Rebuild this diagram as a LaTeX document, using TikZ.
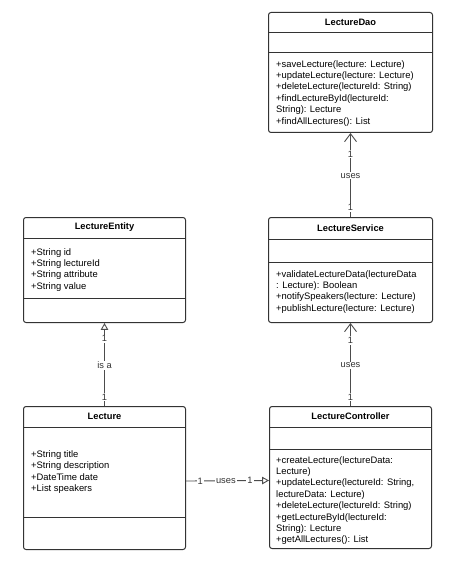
\documentclass[tikz,border=0pt]{standalone}
\usepackage{fontspec}
\setmainfont{Liberation Sans}
\usepackage{tikz}
\usetikzlibrary{arrows.meta, positioning}
\tikzset{
    classbox/.style={
        rectangle,
        rounded corners=2.5pt,
        draw=black!80,
        line width=1pt,
        anchor=north west,
        inner sep=0pt,
        fill=white
    },
    classtitle/.style={
        anchor=center,
        inner sep=0pt,
        font=\fontsize{9.3}{11.3}\selectfont\bfseries
    },
    classtext/.style={
        align=left,
        inner sep=0pt,
        anchor=north west,
        font=\fontsize{9.4}{11.4}\selectfont
    },
    classsep/.style={
        draw=black!80,
        line width=1pt
    },
    useline/.style={
        draw=black!70,
        line width=0.9pt,
        -{Straight Barb[length=2.8mm, width=4.2mm, line width=0.9pt]}
    },
    isaline/.style={
        draw=black!70,
        line width=0.9pt,
        -{Triangle[open, length=2.4mm, width=2.6mm, line width=0.9pt]}
    },
    multlabel/.style={
        fill=white,
        inner sep=1pt,
        text=black!80,
        font=\fontsize{9.3}{11}\selectfont
    }
}

\begin{document}
\begin{tikzpicture}[x=1pt, y=-1pt]
    \useasboundingbox (0,0) rectangle (454,564);

    % class boxes
    \node[classbox, minimum width=164pt, minimum height=120pt] (dao) at (268,12) {};
    \node[classbox, minimum width=164pt, minimum height=105pt] (service) at (268,217) {};
    \node[classbox, minimum width=162pt, minimum height=105pt] (entity) at (23,217) {};
    \node[classbox, minimum width=162pt, minimum height=143pt] (lecture) at (23,406) {};
    \node[classbox, minimum width=162pt, minimum height=142pt] (controller) at (269,406) {};

    % compartments
    \draw[classsep] ([yshift=-21pt]dao.north west) -- ([yshift=-21pt]dao.north east);
    \draw[classsep] ([yshift=-41pt]dao.north west) -- ([yshift=-41pt]dao.north east);
    \draw[classsep] ([yshift=-22pt]service.north west) -- ([yshift=-22pt]service.north east);
    \draw[classsep] ([yshift=-45pt]service.north west) -- ([yshift=-45pt]service.north east);
    \draw[classsep] ([yshift=-21pt]entity.north west) -- ([yshift=-21pt]entity.north east);
    \draw[classsep] ([yshift=-81pt]entity.north west) -- ([yshift=-81pt]entity.north east);
    \draw[classsep] ([yshift=-21pt]lecture.north west) -- ([yshift=-21pt]lecture.north east);
    \draw[classsep] ([yshift=-111pt]lecture.north west) -- ([yshift=-111pt]lecture.north east);
    \draw[classsep] ([yshift=-21pt]controller.north west) -- ([yshift=-21pt]controller.north east);
    \draw[classsep] ([yshift=-43pt]controller.north west) -- ([yshift=-43pt]controller.north east);

    % titles
    \node[classtitle] (daotitle) at ([yshift=-10.5pt]dao.north) {LectureDao};
    \node[classtitle] (servicetitle) at ([yshift=-11pt]service.north) {LectureService};
    \node[classtitle] (entitytitle) at ([yshift=-10.5pt]entity.north) {LectureEntity};
    \node[classtitle] (lecturetitle) at ([yshift=-10.5pt]lecture.north) {Lecture};
    \node[classtitle] (controllertitle) at ([yshift=-10.5pt]controller.north) {LectureController};

    % members
    \node[classtext] (daoops) at ([shift={(8pt,-48pt)}]dao.north west)
        {+saveLecture(lecture: Lecture)\\+updateLecture(lecture: Lecture)\\+deleteLecture(lectureId: String)\\+findLectureById(lectureId:\\String): Lecture\\+findAllLectures(): List};
    \node[classtext] (serviceops) at ([shift={(8pt,-53pt)}]service.north west)
        {+validateLectureData(lectureData\\: Lecture): Boolean\\+notifySpeakers(lecture: Lecture)\\+publishLecture(lecture: Lecture)};
    \node[classtext] (entityattrs) at ([shift={(8pt,-31pt)}]entity.north west)
        {+String id\\+String lectureId\\+String attribute\\+String value};
    \node[classtext, anchor=west] (lectureattrs) at ([shift={(8pt,-66pt)}]lecture.north west)
        {+String title\\+String description\\+DateTime date\\+List speakers};
    \node[classtext] (controllerops) at ([shift={(7pt,-50pt)}]controller.north west)
        {+createLecture(lectureData:\\Lecture)\\+updateLecture(lectureId: String,\\lectureData: Lecture)\\+deleteLecture(lectureId: String)\\+getLectureById(lectureId:\\String): Lecture\\+getAllLectures(): List};

    % relations
    \draw[useline] (service) -- (dao)
        node[pos=.11, multlabel] (svcmult) {1}
        node[pos=.49, multlabel] (svcuses) {uses}
        node[pos=.75, multlabel] (daomult) {1};
    \draw[useline] (controller) -- (service)
        node[pos=.11, multlabel] (ctlmult) {1}
        node[pos=.49, multlabel] (ctluses) {uses}
        node[pos=.79, multlabel] (svcmulttwo) {1};
    \draw[isaline] (lecture) -- (entity)
        node[pos=.11, multlabel] (lecmult) {1}
        node[pos=.49, multlabel] (isa) {is a}
        node[pos=.81, multlabel] (entmult) {1};
    \draw[isaline] ([yshift=-3pt]lecture.east) -- ([yshift=-3pt]controller.west)
        node[pos=.17, multlabel] (lecusesmult) {1}
        node[pos=.48, multlabel] (lecuses) {uses}
        node[pos=.77, multlabel] (ctlusesmult) {1};
\end{tikzpicture}
\end{document}
